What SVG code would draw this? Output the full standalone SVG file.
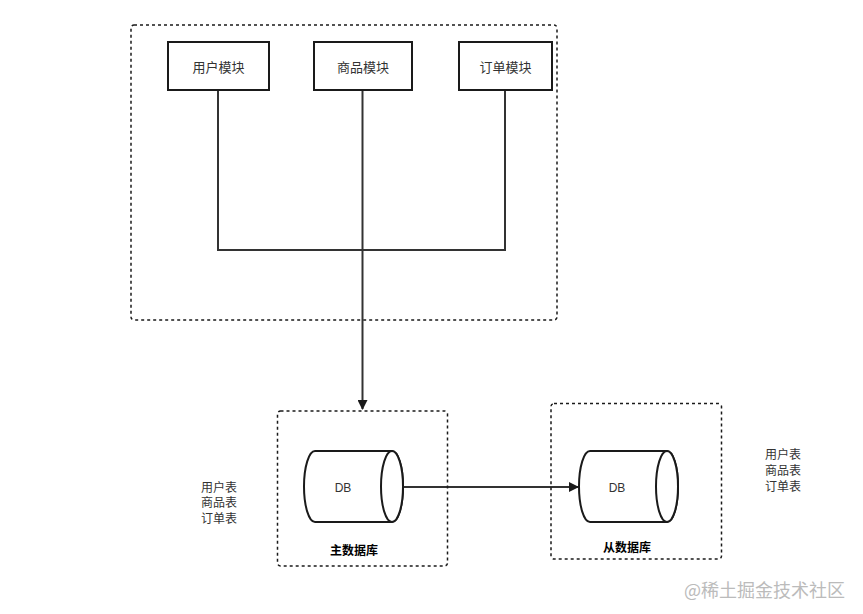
<svg xmlns="http://www.w3.org/2000/svg" width="863" height="614" viewBox="0 0 863 614">
<style>
.bg{fill:#fff}
.grp{fill:none;stroke:#1a1a1a;stroke-width:1.5;stroke-dasharray:3 3}
.box{fill:#fff;stroke:#1a1a1a;stroke-width:2}
.cyl{fill:#fff;stroke:#1a1a1a;stroke-width:2}
.ln{fill:none;stroke:#333;stroke-width:2}
.t{font-family:"Liberation Sans","Noto Sans CJK SC",sans-serif;font-size:12px;fill:#333;text-anchor:middle}
.m{font-size:13px}
.b{font-weight:bold;fill:#000}
.wm{font-family:"Noto Sans CJK SC",sans-serif;font-size:18px;fill:#bbb;text-anchor:start}
</style>
<defs>
<marker id="arr" viewBox="0 0 10 10" refX="9" refY="5" markerWidth="10" markerHeight="10" markerUnits="userSpaceOnUse" orient="auto">
<path d="M0,0 L10,5 L0,10 z" fill="#1a1a1a"/>
</marker>
</defs>
<rect class="bg" x="0" y="0" width="863" height="614"/>
<g id="app-container">
<rect class="grp" x="131" y="25" width="426" height="295" rx="3"/>
</g>
<g id="connectors">
<path class="ln" d="M218,90 V250 H505 V90"/>
<path class="ln" d="M362.5,90 V250"/>
<path class="ln" d="M362.5,250 V409" marker-end="url(#arr)"/>
<path class="ln" d="M403,487 H578" marker-end="url(#arr)"/>
</g>
<g id="user-module">
<rect class="box" x="168" y="42" width="101" height="48"/>
<text class="t m" x="218.5" y="72">用户模块</text>
</g>
<g id="product-module">
<rect class="box" x="314" y="42" width="98" height="48"/>
<text class="t m" x="363" y="72">商品模块</text>
</g>
<g id="order-module">
<rect class="box" x="459" y="42" width="93" height="48"/>
<text class="t m" x="505.5" y="72">订单模块</text>
</g>
<g id="master-db">
<rect class="grp" x="277.5" y="411" width="170" height="155" rx="3"/>
<path class="cyl" d="M315,451 H392 A11,35.5 0 0 1 392,522 H315 A11,35.5 0 0 1 315,451 Z"/>
<ellipse class="cyl" cx="392" cy="486.5" rx="11" ry="35.5"/>
<text class="t" x="343" y="492">DB</text>
<text class="t b" x="354" y="555">主数据库</text>
</g>
<g id="master-tables">
<text class="t" x="219" y="492">用户表</text>
<text class="t" x="219" y="507">商品表</text>
<text class="t" x="219" y="523">订单表</text>
</g>
<g id="slave-db">
<rect class="grp" x="551" y="403.5" width="170.5" height="155.5" rx="3"/>
<path class="cyl" d="M590,451 H667 A11,35.5 0 0 1 667,522 H590 A11,35.5 0 0 1 590,451 Z"/>
<ellipse class="cyl" cx="667" cy="486.5" rx="11" ry="35.5"/>
<text class="t" x="617" y="492">DB</text>
<text class="t b" x="627" y="552">从数据库</text>
</g>
<g id="slave-tables">
<text class="t" x="783" y="459">用户表</text>
<text class="t" x="783" y="475">商品表</text>
<text class="t" x="783" y="491">订单表</text>
</g>
<text class="wm" x="684" y="597">@稀土掘金技术社区</text>
</svg>
